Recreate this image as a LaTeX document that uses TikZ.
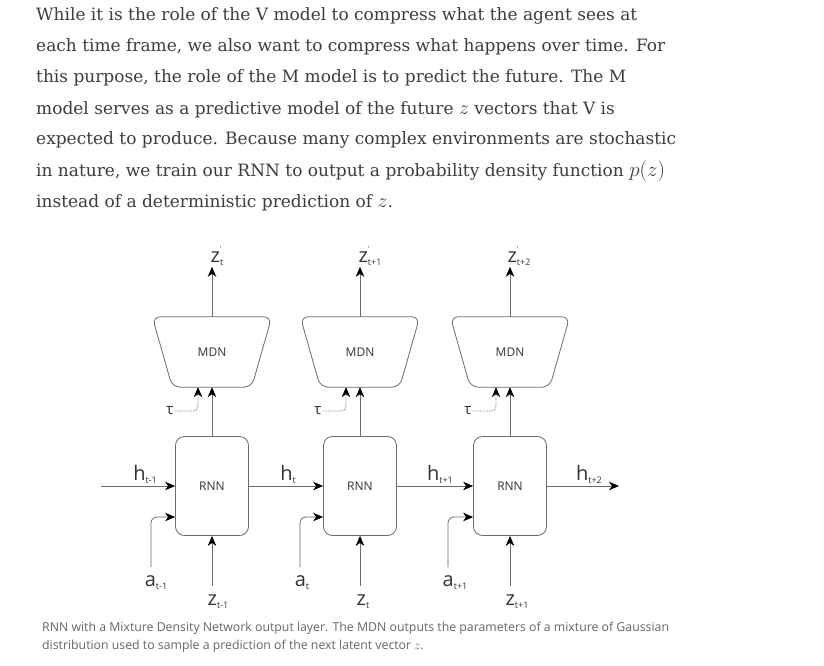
\RequirePackage{fix-cm}
\documentclass[tikz,border=0pt]{standalone}
\usepackage{fontspec}
\setmainfont{DejaVu Serif}
\newfontfamily\diagfont{Open Sans}
\usetikzlibrary{arrows.meta}
\definecolor{bodytext}{HTML}{3D3D3D}
\definecolor{wire}{HTML}{6B6B6B}
\definecolor{vartext}{HTML}{333333}
\definecolor{captext}{HTML}{666666}
\newcommand{\var}[2]{#1\raisebox{-3.5pt}{\fontsize{9}{9}\selectfont#2}}
\newcommand{\pvar}[2]{#1\rlap{\raisebox{11pt}{\fontsize{7}{7}\selectfont'}}\raisebox{-3.5pt}{\fontsize{9}{9}\selectfont#2}}

\begin{document}
\begin{tikzpicture}[x=1pt,y=-1pt,
    rnn/.style={draw=wire, line width=0.8pt, rounded corners=9pt, minimum width=73pt, minimum height=99pt, font=\diagfont\fontsize{12}{14}\selectfont, text=vartext},
    mdn/.style={minimum width=119pt, minimum height=70pt, inner sep=0pt, font=\diagfont\fontsize{12}{14}\selectfont, text=vartext},
    outline/.style={draw=wire, line width=0.8pt, rounded corners=8pt},
    var/.style={font=\diagfont\fontsize{20}{22}\selectfont, text=vartext, inner sep=1pt, anchor=base},
    temp/.style={font=\diagfont\fontsize{15}{16}\selectfont, text=vartext, inner sep=1pt},
    arrow/.style={draw=wire, line width=0.8pt, -{Stealth[length=10pt,width=8.5pt,inset=3pt,color=black]}},
    sample/.style={arrow, densely dotted, rounded corners=5pt},
    para/.style={anchor=base west, inner sep=0pt, font=\fontsize{17}{20}\selectfont, text=bodytext},
    captxt/.style={anchor=base west, inner sep=0pt, font=\diagfont\fontsize{12.3}{14}\selectfont, text=captext}
]
\path[use as bounding box, fill=white] (0,0) rectangle (824,666);

% Text above
\node[para] (l1) at (36,21) {While it is the role of the V model to compress what the agent sees at};
\node[para] (l2) at (36,52) {each time frame, we also want to compress what happens over time. For};
\node[para] (l3) at (36,83) {this purpose, the role of the M model is to predict the future. The M};
\node[para] (l4) at (36,114) {model serves as a predictive model of the future {\fontsize{20}{20}\selectfont$z$} vectors that V is};
\node[para] (l5) at (36,145) {expected to produce. Because many complex environments are stochastic};
\node[para] (l6) at (36,176) {in nature, we train our RNN to output a probability density function {\fontsize{21}{20}\selectfont$p(z)$}};
\node[para] (l7) at (36,207) {instead of a deterministic prediction of {\fontsize{20}{20}\selectfont$z$}.};

% RNN cells
\node[rnn] (R1) at (212,486) {RNN};
\node[rnn] (R2) at (360,486) {RNN};
\node[rnn] (R3) at (510,486) {RNN};

% MDN heads
\node[mdn] (M1) at (212,352) {MDN};
\node[mdn] (M2) at (360,352) {MDN};
\node[mdn] (M3) at (510,352) {MDN};
\draw[outline] (M1.north west) -- (M1.north east) -- ([xshift=-20pt]M1.south east) -- ([xshift=20pt]M1.south west) -- cycle;
\draw[outline] (M2.north west) -- (M2.north east) -- ([xshift=-20pt]M2.south east) -- ([xshift=20pt]M2.south west) -- cycle;
\draw[outline] (M3.north west) -- (M3.north east) -- ([xshift=-20pt]M3.south east) -- ([xshift=20pt]M3.south west) -- cycle;

% Hidden state
\coordinate (hin) at (101,486);
\coordinate (hout) at (619,486);
\draw[arrow] (hin) -- (R1);
\draw[arrow] (R1) -- (R2);
\draw[arrow] (R2) -- (R3);
\draw[arrow] (R3) -- (hout);
\node[var] (h0) at (145,480) {\var{h}{t-1}};
\node[var] (h1) at (288,480) {\var{h}{t}};
\node[var] (h2) at (440,480) {\var{h}{t+1}};
\node[var] (h3) at (589,480) {\var{h}{t+2}};

% Actions
\coordinate (ain1) at (151,567);
\coordinate (ain2) at (300,567);
\coordinate (ain3) at (448,567);
\draw[arrow, rounded corners=6pt] (ain1) |- ([yshift=-31pt]R1.west);
\draw[arrow, rounded corners=6pt] (ain2) |- ([yshift=-31pt]R2.west);
\draw[arrow, rounded corners=6pt] (ain3) |- ([yshift=-31pt]R3.west);
\node[var] (a1) at (156,586) {\var{a}{t-1}};
\node[var] (a2) at (302,586) {\var{a}{t}};
\node[var] (a3) at (455,586) {\var{a}{t+1}};

% Latent inputs
\node[var] (z1) at (218,605) {\var{z}{t-1}};
\node[var] (z2) at (363,605) {\var{z}{t}};
\node[var] (z3) at (517,605) {\var{z}{t+1}};
\draw[arrow, shorten <=7pt] (R1.south |- z1.north) -- (R1.south);
\draw[arrow, shorten <=7pt] (R2.south |- z2.north) -- (R2.south);
\draw[arrow, shorten <=7pt] (R3.south |- z3.north) -- (R3.south);

% RNN to MDN
\draw[arrow] (R1) -- (M1);
\draw[arrow] (R2) -- (M2);
\draw[arrow] (R3) -- (M3);

% Temperature
\node[temp] (tau1) at (170,411) {τ};
\node[temp] (tau2) at (318,411) {τ};
\node[temp] (tau3) at (468,411) {τ};
\draw[sample] (tau1.east) -| ([xshift=-14pt]M1.south);
\draw[sample] (tau2.east) -| ([xshift=-14pt]M2.south);
\draw[sample] (tau3.east) -| ([xshift=-14pt]M3.south);

% Predicted latents
\node[var] (zp1) at (217,262) {\pvar{z}{t}};
\node[var] (zp2) at (370,262) {\pvar{z}{t+1}};
\node[var] (zp3) at (519,262) {\pvar{z}{t+2}};
\draw[arrow] (M1.north) -- (M1.north |- zp1.south);
\draw[arrow] (M2.north) -- (M2.north |- zp2.south);
\draw[arrow] (M3.north) -- (M3.north |- zp3.south);

% Caption
\node[captxt] (c1) at (42,631) {RNN with a Mixture Density Network output layer. The MDN outputs the parameters of a mixture of Gaussian};
\node[captxt] (c2) at (42,649) {distribution used to sample a prediction of the next latent vector $z$.};

\end{tikzpicture}
\end{document}
